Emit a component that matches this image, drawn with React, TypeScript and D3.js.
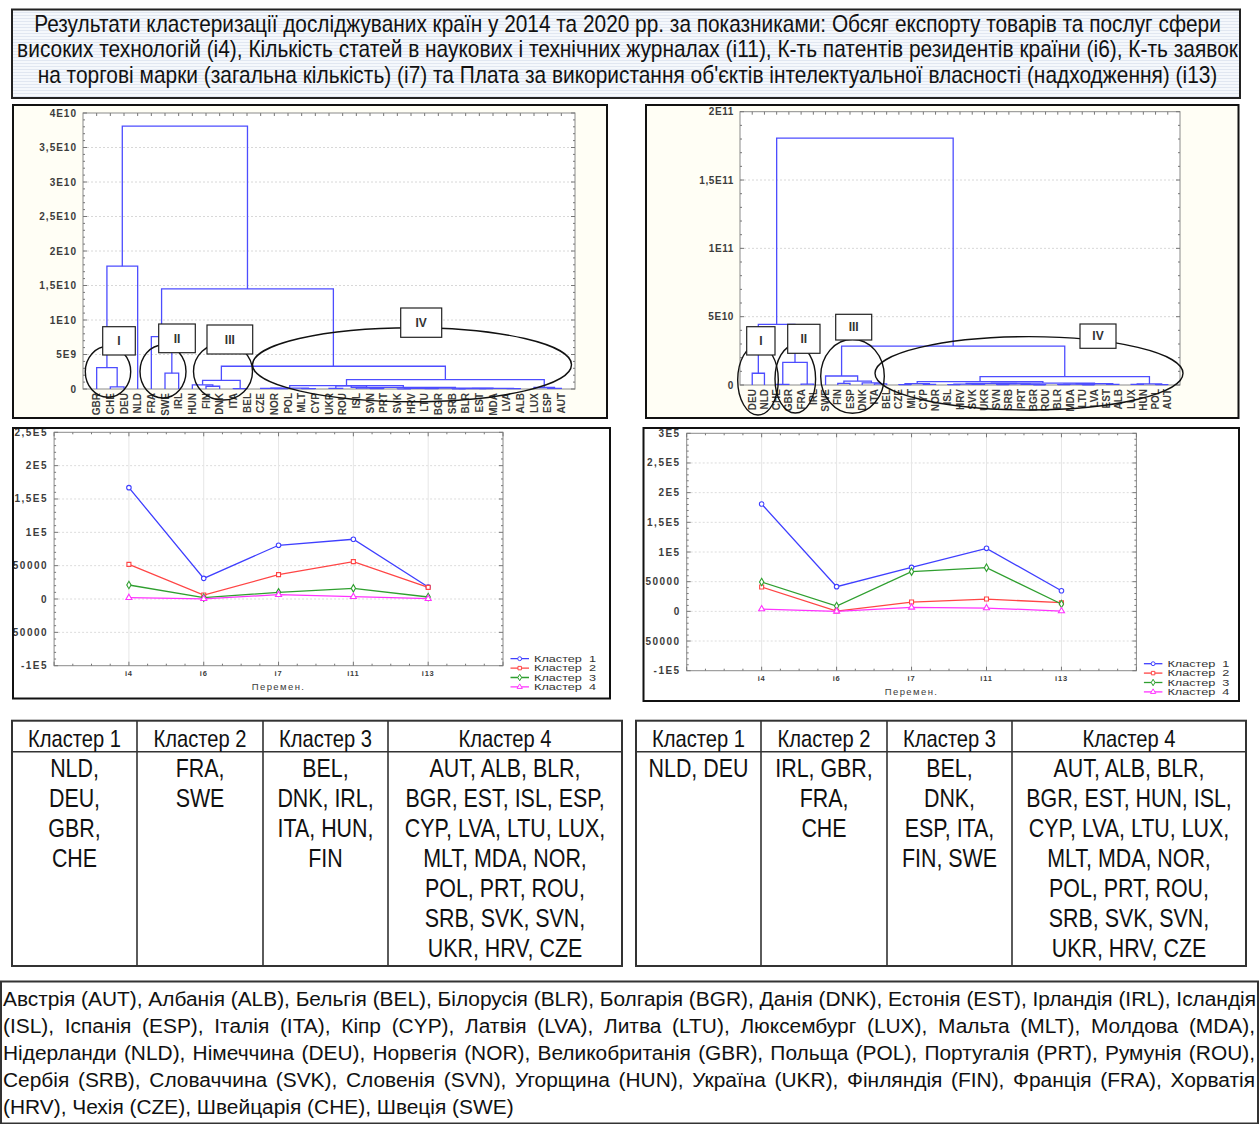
import React, { useEffect, useRef } from 'react'
import * as d3 from 'd3'

const SANS = "'Liberation Sans', Arial, Helvetica, sans-serif"

// ---- texts ----
const titleLines = [
  'Результати кластеризації досліджуваних країн у 2014 та 2020 рр. за показниками: Обсяг експорту товарів та послуг сфери',
  'високих технологій (і4), Кількість статей в наукових і технічних журналах (і11), К-ть патентів резидентів країни (і6), К-ть заявок',
  "на торгові марки (загальна кількість) (і7) та Плата за використання об'єктів інтелектуальної власності (надходження) (і13)"
]

const noteLines = [
  'Австрія (AUT), Албанія (ALB), Бельгія (BEL), Білорусія (BLR), Болгарія (BGR), Данія (DNK), Естонія (EST), Ірландія (IRL), Ісландія',
  '(ISL), Іспанія (ESP), Італія (ITA), Кіпр (CYP), Латвія (LVA), Литва (LTU), Люксембург (LUX), Мальта (MLT), Молдова (MDA),',
  'Нідерланди (NLD), Німеччина (DEU), Норвегія (NOR), Великобританія (GBR), Польща (POL), Португалія (PRT), Румунія (ROU),',
  'Сербія (SRB), Словаччина (SVK), Словенія (SVN), Угорщина (HUN), Україна (UKR), Фінляндія (FIN), Франція (FRA), Хорватія',
  '(HRV), Чехія (CZE), Швейцарія (CHE), Швеція (SWE)'
]

// ---- dendrogram 2014 ----
const leaves2014 = ['GBR', 'CHE', 'DEU', 'NLD', 'FRA', 'SWE', 'IRL', 'HUN', 'FIN', 'DNK', 'ITA', 'BEL', 'CZE', 'NOR', 'POL', 'MLT', 'CYP', 'UKR', 'ROU', 'ISL', 'SVN', 'PRT', 'SVK', 'HRV', 'LTU', 'BGR', 'SRB', 'BLR', 'EST', 'MDA', 'LVA', 'ALB', 'LUX', 'ESP', 'AUT']
// [left, right, linkage distance]; a number refers to an earlier merge
const merges2014: [string | number, string | number, number][] = [
  ['CHE', 'DEU', 0.3e9], ['GBR', 0, 3.1e9], [1, 'NLD', 17.8e9],
  ['SWE', 'IRL', 2.3e9], ['FRA', 3, 7.6e9],
  ['FIN', 'DNK', 0.4e9], ['HUN', 5, 0.6e9], ['ITA', 'BEL', 0.05e9], [6, 7, 1.25e9],
  ['NOR', 'POL', 0.05e9], ['CZE', 9, 0.08e9], ['MLT', 'CYP', 0.06e9], [10, 11, 0.12e9],
  ['UKR', 'ROU', 0.1e9], ['SVN', 'PRT', 0.05e9], ['ISL', 14, 0.12e9], [13, 15, 0.45e9],
  ['SVK', 'HRV', 0.03e9], ['LTU', 'BGR', 0.05e9], [17, 18, 0.08e9],
  ['SRB', 'BLR', 0.03e9], ['EST', 'MDA', 0.04e9], [20, 21, 0.06e9],
  ['LVA', 'ALB', 0.05e9], [22, 23, 0.09e9], [19, 24, 0.14e9], [16, 25, 0.25e9], [12, 26, 0.5e9],
  ['ESP', 'AUT', 0.1e9], ['LUX', 28, 0.22e9], [27, 29, 1.35e9],
  [8, 30, 3.3e9], [4, 31, 14.5e9], [2, 32, 38.1e9]
]

// ---- dendrogram 2020 ----
const leaves2020 = ['DEU', 'NLD', 'CHE', 'GBR', 'FRA', 'IRL', 'SWE', 'FIN', 'ESP', 'DNK', 'ITA', 'BEL', 'CZE', 'MLT', 'CYP', 'NOR', 'ISL', 'HRV', 'SVK', 'UKR', 'SVN', 'SRB', 'PRT', 'BGR', 'ROU', 'BLR', 'MDA', 'LTU', 'LVA', 'EST', 'ALB', 'LUX', 'HUN', 'POL', 'AUT']
const merges2020: [string | number, string | number, number][] = [
  ['DEU', 'NLD', 0.86e10], ['CHE', 'GBR', 0.05e10], ['FRA', 'IRL', 0.06e10], [1, 2, 1.66e10], [0, 3, 4.44e10],
  ['FIN', 'ESP', 0.12e10], ['ITA', 'BEL', 0.08e10], ['DNK', 6, 0.15e10], [5, 7, 0.29e10], ['SWE', 8, 0.66e10],
  ['CZE', 'MLT', 0.03e10], ['CYP', 'NOR', 0.05e10], [10, 11, 0.1e10],
  ['ISL', 'HRV', 0.03e10], ['SVK', 'UKR', 0.04e10], [13, 14, 0.07e10],
  ['SVN', 'SRB', 0.03e10], ['BGR', 'ROU', 0.02e10], ['PRT', 17, 0.05e10], [16, 18, 0.08e10], [15, 19, 0.11e10],
  ['BLR', 'MDA', 0.03e10], ['LTU', 'LVA', 0.02e10], [21, 22, 0.06e10], ['EST', 'ALB', 0.04e10], [23, 24, 0.09e10],
  [20, 25, 0.14e10], [12, 26, 0.24e10],
  ['LUX', 'HUN', 0.05e10], ['POL', 'AUT', 0.03e10], [28, 29, 0.08e10],
  [27, 30, 0.61e10], [9, 31, 2.85e10], [4, 32, 18.06e10]
]

// ---- cluster means ----
const variables = ['i4', 'i6', 'i7', 'i11', 'i13']
const clusterNames = ['Кластер  1', 'Кластер  2', 'Кластер  3', 'Кластер  4']
const k1_2014 = [167000, 31000, 80600, 89600, 18000]
const k2_2014 = [52000, 6000, 36500, 56000, 17500]
const k3_2014 = [21000, 2000, 10000, 16000, 3000]
const k4_2014 = [2000, 300, 6500, 3500, 500]
const k1_2020 = [180800, 41600, 74100, 106200, 34800]
const k2_2020 = [41000, 500, 15700, 20700, 14600]
const k3_2020 = [49400, 9000, 66900, 73600, 12400]
const k4_2020 = [3900, 0, 6700, 5600, 500]

// ---- tables ----
const tableHeaders = ['Кластер 1', 'Кластер 2', 'Кластер 3', 'Кластер 4']
const table2014 = [
  ['NLD,', 'DEU,', 'GBR,', 'CHE'],
  ['FRA,', 'SWE'],
  ['BEL,', 'DNK, IRL,', 'ITA, HUN,', 'FIN'],
  ['AUT, ALB, BLR,', 'BGR, EST, ISL, ESP,', 'CYP, LVA, LTU, LUX,', 'MLT, MDA, NOR,', 'POL, PRT, ROU,', 'SRB, SVK, SVN,', 'UKR, HRV, CZE']
]
const table2020 = [
  ['NLD, DEU'],
  ['IRL, GBR,', 'FRA,', 'CHE'],
  ['BEL,', 'DNK,', 'ESP, ITA,', 'FIN, SWE'],
  ['AUT, ALB, BLR,', 'BGR, EST, HUN, ISL,', 'CYP, LVA, LTU, LUX,', 'MLT, MDA, NOR,', 'POL, PRT, ROU,', 'SRB, SVK, SVN,', 'UKR, HRV, CZE']
]

const DENDRO_BLUE = '#4d4dff'
const colors = ['#3f3fff', '#ff4545', '#2f9f2f', '#ff33ff']
const symbols = [d3.symbolCircle, d3.symbolSquare, d3.symbolDiamond, d3.symbolTriangle]

function sci (v: number, plainBelow: number) {
  if (v === 0) return '0'
  const a = Math.abs(v)
  if (a < plainBelow) return String(v)
  const e = Math.floor(Math.log10(a) + 1e-9)
  const m = +(v / Math.pow(10, e)).toFixed(2)
  return String(m).replace('.', ',') + 'E' + e
}

function measure (svg: any, str: string, size: number, weight = 'normal') {
  const t = svg.append('text').attr('font-family', SANS).attr('font-size', size)
    .attr('font-weight', weight).style('white-space', 'pre').text(str)
  const w = (t.node() as SVGTextElement).getComputedTextLength()
  t.remove()
  return w
}

function clipFor (svg: any, id: string, x: number, y: number, w: number, h: number) {
  svg.select('defs').append('clipPath').attr('id', id)
    .append('rect').attr('x', x).attr('y', y).attr('width', w).attr('height', h)
  return `url(#${id})`
}

function drawDendro (svg: any, id: string, leaves: string[], merges: any[], cfg: any, annots: any[]) {
  const [px, py, pw, ph] = cfg.panel
  svg.append('rect').attr('x', px).attr('y', py).attr('width', pw).attr('height', ph)
    .attr('fill', '#fffef5')
  const g = svg.append('g').attr('clip-path', clipFor(svg, id, px, py, pw, ph))

  const x = d3.scalePoint<string>().domain(leaves).range([cfg.x0, cfg.x1]).padding(1)
  const y = d3.scaleLinear().domain([0, cfg.max]).range([cfg.y0, cfg.y1])
  const ticks = d3.range(0, cfg.max + cfg.step / 2, cfg.step)

  g.append('rect').attr('x', cfg.x0).attr('y', cfg.y1).attr('width', cfg.x1 - cfg.x0)
    .attr('height', cfg.y0 - cfg.y1).attr('fill', '#fff')

  // grid
  g.selectAll('.grid').data(ticks.slice(1, -1)).enter().append('line')
    .attr('x1', cfg.x0).attr('x2', cfg.x1).attr('y1', (d: number) => y(d)).attr('y2', (d: number) => y(d))
    .attr('stroke', '#d8d8d8').attr('stroke-dasharray', '2,2')

  // frame and ticks
  g.append('rect').attr('x', cfg.x0).attr('y', cfg.y1).attr('width', cfg.x1 - cfg.x0)
    .attr('height', cfg.y0 - cfg.y1).attr('fill', 'none').attr('stroke', '#8a8a8a')
  const minor = d3.range(0, cfg.max + 1, cfg.step / 5)
  minor.forEach((v: number, i: number) => {
    const len = i % 5 === 0 ? 4 : 2
    g.append('line').attr('x1', cfg.x1).attr('x2', cfg.x1 - len).attr('y1', y(v)).attr('y2', y(v)).attr('stroke', '#777')
    g.append('line').attr('x1', cfg.x0).attr('x2', cfg.x0 + len).attr('y1', y(v)).attr('y2', y(v)).attr('stroke', '#777')
  })
  leaves.forEach((l) => {
    g.append('line').attr('x1', x(l)).attr('x2', x(l)).attr('y1', cfg.y1).attr('y2', cfg.y1 + 3).attr('stroke', '#777')
  })

  // y labels
  g.selectAll('.ylab').data(ticks).enter().append('text')
    .attr('x', cfg.labelRight).attr('y', (d: number) => y(d)).attr('dy', '0.35em')
    .attr('text-anchor', 'end').attr('font-family', SANS).attr('font-size', 10)
    .attr('font-weight', 'bold').attr('letter-spacing', cfg.ls).attr('fill', '#3c3c3c')
    .text((d: number) => sci(d, 1))

  // links
  const pos: Record<string, { x: number, h: number }> = {}
  leaves.forEach(l => { pos[l] = { x: x(l) as number, h: 0 } })
  merges.forEach(([a, b, h]: any, i: number) => {
    const A = pos[typeof a === 'number' ? '#' + a : a]
    const B = pos[typeof b === 'number' ? '#' + b : b]
    g.append('path')
      .attr('d', `M${A.x},${y(A.h)}V${y(h)}H${B.x}V${y(B.h)}`)
      .attr('fill', 'none').attr('stroke', DENDRO_BLUE).attr('stroke-width', 1.3)
    pos['#' + i] = { x: (A.x + B.x) / 2, h }
  })

  // leaf labels
  leaves.forEach(l => {
    g.append('text').attr('transform', `translate(${x(l)},${cfg.y0 + 4}) rotate(-90)`)
      .attr('text-anchor', 'end').attr('dy', '0.36em').attr('font-family', SANS)
      .attr('font-size', 10).attr('font-weight', 'bold').attr('fill', '#3c3c3c').text(l)
  })

  // cluster annotations
  annots.forEach(a => {
    g.append('ellipse').attr('cx', a.cx).attr('cy', a.cy).attr('rx', a.rx).attr('ry', a.ry)
      .attr('fill', 'none').attr('stroke', '#111').attr('stroke-width', 1.4)
  })
  annots.forEach(a => {
    g.append('rect').attr('x', a.bx).attr('y', a.by).attr('width', a.bw).attr('height', a.bh)
      .attr('fill', '#fff').attr('stroke', '#222').attr('stroke-width', 1.2)
    g.append('text').attr('x', a.bx + a.bw / 2).attr('y', a.by + a.bh / 2).attr('dy', '0.36em')
      .attr('text-anchor', 'middle').attr('font-family', SANS).attr('font-size', 12)
      .attr('font-weight', 'bold').attr('fill', '#333').text(a.label)
  })

  svg.append('rect').attr('x', px).attr('y', py).attr('width', pw).attr('height', ph)
    .attr('fill', 'none').attr('stroke', '#111').attr('stroke-width', 2)
}

function drawLines (svg: any, id: string, series: number[][], cfg: any) {
  const [px, py, pw, ph] = cfg.panel
  svg.append('rect').attr('x', px).attr('y', py).attr('width', pw).attr('height', ph).attr('fill', '#fff')
  const g = svg.append('g').attr('clip-path', clipFor(svg, id, px, py, pw, ph))

  const x = d3.scalePoint<string>().domain(variables).range([cfg.x0, cfg.x1]).padding(1)
  const y = d3.scaleLinear().domain([cfg.min, cfg.max]).range([cfg.y0, cfg.y1])
  const ticks = d3.range(cfg.min, cfg.max + 1, 50000)

  ticks.slice(1, -1).forEach((v: number) => {
    g.append('line').attr('x1', cfg.x0).attr('x2', cfg.x1).attr('y1', y(v)).attr('y2', y(v))
      .attr('stroke', '#dcdcdc').attr('stroke-dasharray', '2,2')
  })
  variables.forEach(v => {
    g.append('line').attr('x1', x(v)).attr('x2', x(v)).attr('y1', cfg.y1).attr('y2', cfg.y0)
      .attr('stroke', '#e6e6e6')
  })
  g.append('rect').attr('x', cfg.x0).attr('y', cfg.y1).attr('width', cfg.x1 - cfg.x0)
    .attr('height', cfg.y0 - cfg.y1).attr('fill', 'none').attr('stroke', '#8a8a8a')
  d3.range(cfg.min, cfg.max + 1, 10000).forEach((v: number, i: number) => {
    const len = i % 5 === 0 ? 4 : 2
    g.append('line').attr('x1', cfg.x1).attr('x2', cfg.x1 - len).attr('y1', y(v)).attr('y2', y(v)).attr('stroke', '#777')
    g.append('line').attr('x1', cfg.x0).attr('x2', cfg.x0 + len).attr('y1', y(v)).attr('y2', y(v)).attr('stroke', '#777')
  })
  const step = x.step()
  d3.range(cfg.x0, cfg.x1 + 1, step / 4).forEach((v: number, i: number) => {
    const len = i % 4 === 0 ? 4 : 2
    g.append('line').attr('x1', v).attr('x2', v).attr('y1', cfg.y1).attr('y2', cfg.y1 + len).attr('stroke', '#777')
    g.append('line').attr('x1', v).attr('x2', v).attr('y1', cfg.y0).attr('y2', cfg.y0 - len).attr('stroke', '#777')
  })

  ticks.forEach((v: number) => {
    g.append('text').attr('x', cfg.x0 - 6).attr('y', y(v)).attr('dy', '0.35em')
      .attr('text-anchor', 'end').attr('font-family', SANS).attr('font-size', 10)
      .attr('font-weight', 'bold').attr('letter-spacing', 1.5).attr('fill', '#3c3c3c')
      .text(sci(v, 1e5))
  })
  variables.forEach(v => {
    g.append('text').attr('x', x(v)).attr('y', cfg.y0 + 10).attr('text-anchor', 'middle')
      .attr('font-family', SANS).attr('font-size', 7.5).attr('font-weight', 'bold')
      .attr('letter-spacing', 0.8).attr('fill', '#3c3c3c').text(v)
  })
  g.append('text').attr('x', (cfg.x0 + cfg.x1) / 2).attr('y', cfg.y0 + 24).attr('text-anchor', 'middle')
    .attr('font-family', SANS).attr('font-size', 9.5).attr('letter-spacing', 1.4)
    .attr('fill', '#3c3c3c').text('Перемен.')

  series.forEach((vals, k) => {
    const line = d3.line<number>().x((_, i) => x(variables[i]) as number).y(d => y(d))
    g.append('path').attr('d', line(vals)).attr('fill', 'none')
      .attr('stroke', colors[k]).attr('stroke-width', 1.3)
    vals.forEach((v, i) => {
      g.append('path').attr('d', d3.symbol(symbols[k], 16)())
        .attr('transform', `translate(${x(variables[i])},${y(v)})`)
        .attr('fill', '#fff').attr('stroke', colors[k]).attr('stroke-width', 1.1)
    })
    // legend
    const ly = cfg.y0 - 7 + k * 9.4
    g.append('line').attr('x1', cfg.x1 + 7.5).attr('x2', cfg.x1 + 26).attr('y1', ly).attr('y2', ly)
      .attr('stroke', colors[k]).attr('stroke-width', 1.3)
    g.append('path').attr('d', d3.symbol(symbols[k], 12)())
      .attr('transform', `translate(${cfg.x1 + 16.7},${ly})`)
      .attr('fill', '#fff').attr('stroke', colors[k]).attr('stroke-width', 1)
    g.append('text').attr('x', cfg.x1 + 31).attr('y', ly).attr('dy', '0.35em')
      .attr('font-family', SANS).attr('font-size', 9.5).style('white-space', 'pre')
      .attr('textLength', 62).attr('lengthAdjust', 'spacingAndGlyphs')
      .attr('fill', '#333').text(clusterNames[k])
  })

  svg.append('rect').attr('x', px).attr('y', py).attr('width', pw).attr('height', ph)
    .attr('fill', 'none').attr('stroke', '#111').attr('stroke-width', 2)
}

function drawTable (svg: any, bounds: number[], data: string[][], sxHead: number, sxBody: number) {
  const top = 720.7
  const headBottom = 751.7
  const bottom = 966
  const g = svg.append('g')
  g.append('line').attr('x1', bounds[0]).attr('x2', bounds[4]).attr('y1', headBottom).attr('y2', headBottom)
    .attr('stroke', '#333').attr('stroke-width', 1.6)
  bounds.slice(1, -1).forEach(b => {
    g.append('line').attr('x1', b).attr('x2', b).attr('y1', top).attr('y2', bottom)
      .attr('stroke', '#333').attr('stroke-width', 1.6)
  })
  g.append('rect').attr('x', bounds[0]).attr('y', top).attr('width', bounds[4] - bounds[0])
    .attr('height', bottom - top).attr('fill', 'none').attr('stroke', '#333').attr('stroke-width', 2)

  tableHeaders.forEach((h, c) => {
    const cx = (bounds[c] + bounds[c + 1]) / 2
    g.append('g').attr('transform', `translate(${cx},746.7) scale(${sxHead},1)`)
      .append('text').attr('text-anchor', 'middle').attr('font-family', SANS)
      .attr('font-size', 24).attr('fill', '#111').text(h)
  })
  data.forEach((col, c) => {
    const cx = (bounds[c] + bounds[c + 1]) / 2
    col.forEach((line, r) => {
      g.append('g').attr('transform', `translate(${cx},${777.3 + r * 29.95}) scale(${sxBody},1)`)
        .append('text').attr('text-anchor', 'middle').attr('font-family', SANS)
        .attr('font-size', 25).attr('fill', '#111').text(line)
    })
  })
}

const annot2014 = [
  { label: 'I', cx: 108, cy: 371.7, rx: 22.7, ry: 25.5, bx: 102.7, by: 326.7, bw: 32.6, bh: 28.3 },
  { label: 'II', cx: 163, cy: 371.5, rx: 23, ry: 26.5, bx: 158.7, by: 324, bw: 36.6, bh: 28.7 },
  { label: 'III', cx: 223, cy: 371.5, rx: 29.5, ry: 28.5, bx: 207, by: 325, bw: 45.7, bh: 29 },
  { label: 'IV', cx: 412, cy: 364.7, rx: 159.5, ry: 37, bx: 400.7, by: 308, bw: 41, bh: 29.3 }
]
const annot2020 = [
  { label: 'I', cx: 758, cy: 380, rx: 20.3, ry: 35, bx: 746.7, by: 326.7, bw: 28.3, bh: 28.3 },
  { label: 'II', cx: 795.3, cy: 379, rx: 20.3, ry: 34, bx: 787.7, by: 324.3, bw: 32.3, bh: 29 },
  { label: 'III', cx: 852.5, cy: 376.3, rx: 31.8, ry: 37, bx: 835.7, by: 314.3, bw: 36, bh: 25.7 },
  { label: 'IV', cx: 1029, cy: 373.3, rx: 154, ry: 36.7, bx: 1080, by: 324, bw: 36, bh: 24.3 }
]

function draw (node: SVGSVGElement) {
  const svg = d3.select(node)
  svg.selectAll('*').remove()
  const defs = svg.append('defs')
  const pat = defs.append('pattern').attr('id', 'stripes').attr('width', 6).attr('height', 3)
    .attr('patternUnits', 'userSpaceOnUse')
  pat.append('rect').attr('width', 6).attr('height', 3).attr('fill', '#f5f8fc')
  pat.append('rect').attr('width', 6).attr('height', 1).attr('fill', '#e1e7f1')

  // title: each line squeezed horizontally to the width it has in the source
  svg.append('rect').attr('x', 12).attr('y', 9.5).attr('width', 1228).attr('height', 88.5)
    .attr('fill', 'url(#stripes)').attr('stroke', '#222').attr('stroke-width', 2)
  const titleY = [31.8, 57, 82.5]
  const titleW = [1187, 1221, 1180]
  titleLines.forEach((t, i) => {
    const sx = titleW[i] / measure(svg, t, 23)
    svg.append('g').attr('transform', `translate(627.5,${titleY[i]}) scale(${sx},1)`)
      .append('text').attr('text-anchor', 'middle')
      .attr('font-family', SANS).attr('font-size', 23).attr('fill', '#111').text(t)
  })

  drawDendro(svg, 'cd1', leaves2014, merges2014,
    { panel: [13, 105, 594, 313], x0: 83, x1: 575, y0: 389, y1: 113, max: 4e10, step: 5e9, labelRight: 77, ls: 1 },
    annot2014)
  drawDendro(svg, 'cd2', leaves2020, merges2020,
    { panel: [646, 105, 592.5, 313], x0: 740, x1: 1180, y0: 385, y1: 111.7, max: 2e11, step: 5e10, labelRight: 734, ls: 0.6 },
    annot2020)

  drawLines(svg, 'cl1', [k1_2014, k2_2014, k3_2014, k4_2014],
    { panel: [13, 428, 597, 270.5], x0: 54.1, x1: 503, y0: 665.7, y1: 432.3, min: -1e5, max: 2.5e5 })
  drawLines(svg, 'cl2', [k1_2020, k2_2020, k3_2020, k4_2020],
    { panel: [643.5, 428, 595.5, 273], x0: 686.7, x1: 1136.4, y0: 670.7, y1: 433.3, min: -1e5, max: 3e5 })

  const sxHead = 93 / measure(svg, 'Кластер 1', 24)
  const sxBody = 151 / measure(svg, 'AUT, ALB, BLR,', 25)
  drawTable(svg, [12, 137, 263, 388, 622], table2014, sxHead, sxBody)
  drawTable(svg, [636, 761, 887, 1012, 1246], table2020, sxHead, sxBody)

  // country note, justified like the source
  svg.append('rect').attr('x', 1).attr('y', 981.5).attr('width', 1257).attr('height', 142)
    .attr('fill', '#fff').attr('stroke', '#333').attr('stroke-width', 2)
  const sxNote = 511 / measure(svg, noteLines[4], 21)
  const target = 1253 / sxNote
  noteLines.forEach((line, i) => {
    const t = svg.append('g').attr('transform', `translate(3,${1006 + i * 27}) scale(${sxNote},1)`)
      .append('text').attr('font-family', SANS).attr('font-size', 21).attr('fill', '#111').text(line)
    if (i < noteLines.length - 1) {
      const w = measure(svg, line, 21)
      const spaces = line.split(' ').length - 1
      if (w < target) t.style('word-spacing', ((target - w) / spaces) + 'px')
      else t.attr('textLength', target).attr('lengthAdjust', 'spacingAndGlyphs')
    }
  })
}

export default function App () {
  const ref = useRef<SVGSVGElement>(null)
  useEffect(() => {
    if (ref.current) draw(ref.current)
  }, [])
  return (
    <svg ref={ref} width={1260} height={1124}
      style={{ position: 'absolute', left: 0, top: 0, background: '#fff' }} />
  )
}
